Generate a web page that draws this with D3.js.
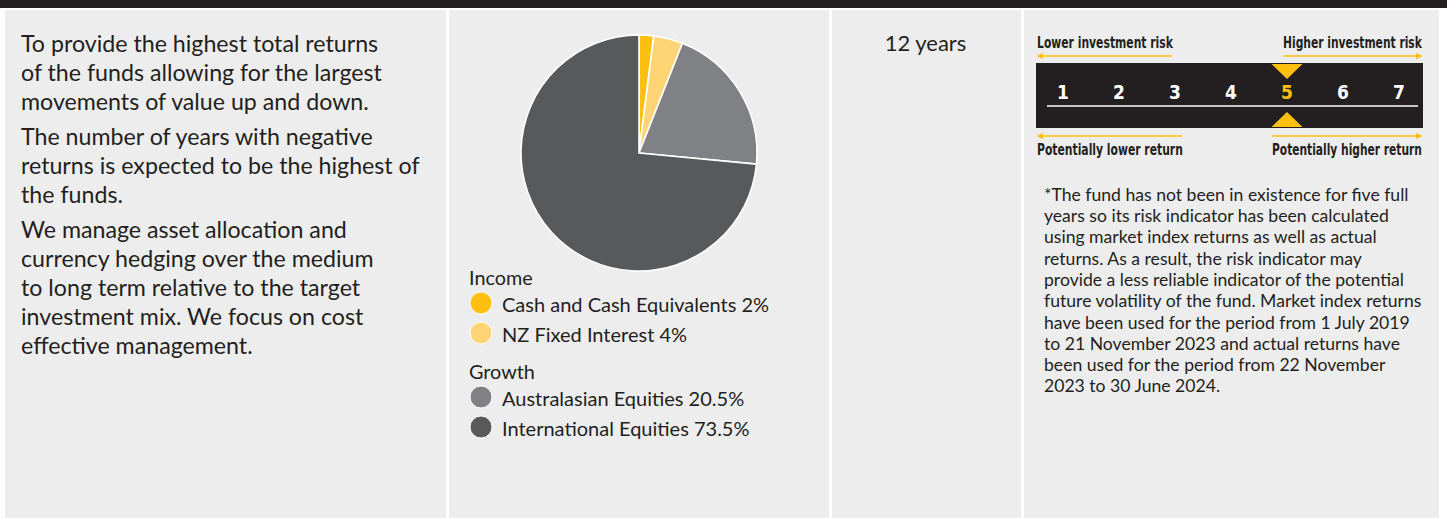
<!DOCTYPE html>
<html>
<head>
<meta charset="utf-8">
<script src="https://cdn.jsdelivr.net/npm/d3@7"></script>
<style>
  html, body { margin: 0; padding: 0; background: #fff; }
  svg { display: block; }
  .body { font-family: Lato, "Noto Sans", sans-serif; fill: #231f20; }
  .cond { font-family: "Liberation Sans Narrow", "DejaVu Sans Condensed", sans-serif; font-weight: bold; }
</style>
</head>
<body>
<div id="chart"></div>
<script>
// fund objective text, one array per paragraph
var objectivePara1 = ['To provide the highest total returns', 'of the funds allowing for the largest', 'movements of value up and down.'];
var objectivePara2 = ['The number of years with negative', 'returns is expected to be the highest of', 'the funds.'];
var objectivePara3 = ['We manage asset allocation and', 'currency hedging over the medium', 'to long term relative to the target', 'investment mix. We focus on cost', 'effective management.'];

// target investment mix
var assetLabels = ['Cash and Cash Equivalents', 'NZ Fixed Interest', 'Australasian Equities', 'International Equities'];
var assetValues = [2, 4, 20.5, 73.5];
var assetGroups = ['Income', 'Income', 'Growth', 'Growth'];
var assetValueText = ['2%', '4%', '20.5%', '73.5%'];
var assetColors = ['#fdc010', '#fed474', '#808184', '#58595b'];

// minimum timeframe
var timeframe = '12 years';

// risk indicator
var riskLevels = [1, 2, 3, 4, 5, 6, 7];
var riskValue = 5;

var footnoteLines = [
  '*The fund has not been in existence for five full',
  'years so its risk indicator has been calculated',
  'using market index returns as well as actual',
  'returns. As a result, the risk indicator may',
  'provide a less reliable indicator of the potential',
  'future volatility of the fund. Market index returns',
  'have been used for the period from 1 July 2019',
  'to 21 November 2023 and actual returns have',
  'been used for the period from 22 November',
  '2023 to 30 June 2024.'
];

(function(d3) {
  'use strict';

  var width = 1447;
  var height = 518;
  var yellow = '#fdc010';
  var dark = '#231f20';

  var svg = d3.select('#chart')
    .append('svg')
    .attr('width', width)
    .attr('height', height);

  // top bar + panels
  svg.append('rect').attr('x', 0).attr('y', 0).attr('width', width).attr('height', 8).attr('fill', dark);
  var panels = [[5, 446], [449, 829], [832, 1021], [1024, 1439]];
  svg.selectAll('.panel')
    .data(panels)
    .enter()
    .append('rect')
    .attr('class', 'panel')
    .attr('x', function(d) { return d[0]; })
    .attr('y', 10)
    .attr('width', function(d) { return d[1] - d[0]; })
    .attr('height', height - 10)
    .attr('fill', '#ededed');

  // objective text
  var paras = [objectivePara1, objectivePara2, objectivePara3];
  var lineH = 29, paraGap = 6, y = 52;
  var objG = svg.append('g');
  paras.forEach(function(p) {
    p.forEach(function(line) {
      objG.append('text')
        .attr('class', 'body')
        .attr('x', 21)
        .attr('y', y)
        .style('font-size', '23.2px')
        .text(line);
      y += lineH;
    });
    y += paraGap;
  });

  // pie chart
  var radius = 118;
  var pie = d3.pie()
    .value(function(d) { return d; })
    .sort(null);
  var arc = d3.arc()
    .innerRadius(0)
    .outerRadius(radius);

  var pieG = svg.append('g')
    .attr('transform', 'translate(' + 639 + ',' + 153 + ')');

  pieG.selectAll('path')
    .data(pie(assetValues))
    .enter()
    .append('path')
    .attr('d', arc)
    .attr('fill', function(d, i) { return assetColors[i]; })
    .attr('stroke', '#fff')
    .attr('stroke-width', 1.6)
    .attr('stroke-linejoin', 'round');

  // legend, grouped
  var legendG = svg.append('g').attr('transform', 'translate(469,0)');
  var ly = 285;
  var groups = [];
  assetGroups.forEach(function(g) { if (groups.indexOf(g) < 0) groups.push(g); });
  groups.forEach(function(g, gi) {
    legendG.append('text')
      .attr('class', 'body')
      .attr('x', 0)
      .attr('y', ly)
      .style('font-size', '19.8px')
      .text(g);
    var cy = ly + 18;
    assetLabels.forEach(function(label, i) {
      if (assetGroups[i] !== g) return;
      legendG.append('circle')
        .attr('cx', 12)
        .attr('cy', cy)
        .attr('r', 11)
        .attr('fill', assetColors[i])
        .attr('stroke', '#fff')
        .attr('stroke-width', 1);
      legendG.append('text')
        .attr('class', 'body')
        .attr('x', 33)
        .attr('y', cy + 8.5)
        .style('font-size', '20px')
        .text(label + ' ' + assetValueText[i]);
      cy += 30;
    });
    ly = cy - 30 + 46;
  });

  // timeframe
  svg.append('text')
    .attr('class', 'body')
    .attr('x', 925.5)
    .attr('y', 51)
    .attr('text-anchor', 'middle')
    .style('font-size', '22px')
    .text(timeframe);

  // risk indicator
  var x = d3.scalePoint()
    .domain(riskLevels)
    .range([1063, 1399]);
  var left = 1036, right = 1423;
  var riskG = svg.append('g');

  var defs = svg.append('defs');
  defs.append('marker')
    .attr('id', 'arrow')
    .attr('viewBox', '0 0 10 10')
    .attr('refX', 8)
    .attr('refY', 5)
    .attr('markerWidth', 4)
    .attr('markerHeight', 4)
    .attr('orient', 'auto-start-reverse')
    .append('path')
    .attr('d', 'M0,0L10,5L0,10z')
    .attr('fill', yellow);

  // condensed labels, squeezed sideways to the width they take in the print version
  function label(txt, x0, yy, len) {
    var t = riskG.append('text')
      .attr('class', 'cond')
      .attr('x', 0)
      .attr('y', 0)
      .style('font-size', '15px')
      .style('fill', dark)
      .text(txt);
    var natural = t.node().getComputedTextLength() || len;
    t.attr('transform', 'translate(' + x0 + ',' + yy + ') scale(' + (len / natural) + ',1)');
  }
  function arrowLine(x1, x2, yy, startArrow) {
    var l = riskG.append('line')
      .attr('x1', x1).attr('x2', x2)
      .attr('y1', yy).attr('y2', yy)
      .attr('stroke', yellow)
      .attr('stroke-width', 1.6);
    if (startArrow) l.attr('marker-start', 'url(#arrow)');
    else l.attr('marker-end', 'url(#arrow)');
  }

  label('Lower investment risk', 1037, 48, 136);
  label('Higher investment risk', 1283, 48, 139);
  arrowLine(1038, 1172, 56, true);
  arrowLine(1283, 1421, 56, false);

  riskG.append('rect')
    .attr('x', left).attr('y', 63)
    .attr('width', right - left).attr('height', 65)
    .attr('fill', dark);

  riskG.append('line')
    .attr('x1', 1047).attr('x2', 1418)
    .attr('y1', 106).attr('y2', 106)
    .attr('stroke', '#fff')
    .attr('stroke-width', 1.5);

  riskG.selectAll('.num')
    .data(riskLevels)
    .enter()
    .append('text')
    .attr('class', 'cond num')
    .attr('x', function(d) { return x(d); })
    .attr('y', 99)
    .attr('text-anchor', 'middle')
    .style('font-size', '19px')
    .style('fill', function(d) { return d === riskValue ? yellow : '#fff'; })
    .text(function(d) { return d; });

  var rx = x(riskValue);
  riskG.append('path')
    .attr('d', 'M' + (rx - 15.5) + ',64L' + (rx + 15.5) + ',64L' + rx + ',79Z')
    .attr('fill', yellow);
  riskG.append('path')
    .attr('d', 'M' + (rx - 15.5) + ',127L' + (rx + 15.5) + ',127L' + rx + ',112Z')
    .attr('fill', yellow);

  arrowLine(1038, 1182, 136, true);
  arrowLine(1272, 1421, 136, false);
  label('Potentially lower return', 1037, 155, 146);
  label('Potentially higher return', 1272, 155, 150);

  // footnote
  svg.append('g')
    .selectAll('text')
    .data(footnoteLines)
    .enter()
    .append('text')
    .attr('class', 'body')
    .attr('x', 1044)
    .attr('y', function(d, i) { return 200.7 + i * 21.3; })
    .style('font-size', '17.6px')
    .text(function(d) { return d; });

})(window.d3);
</script>
</body>
</html>
